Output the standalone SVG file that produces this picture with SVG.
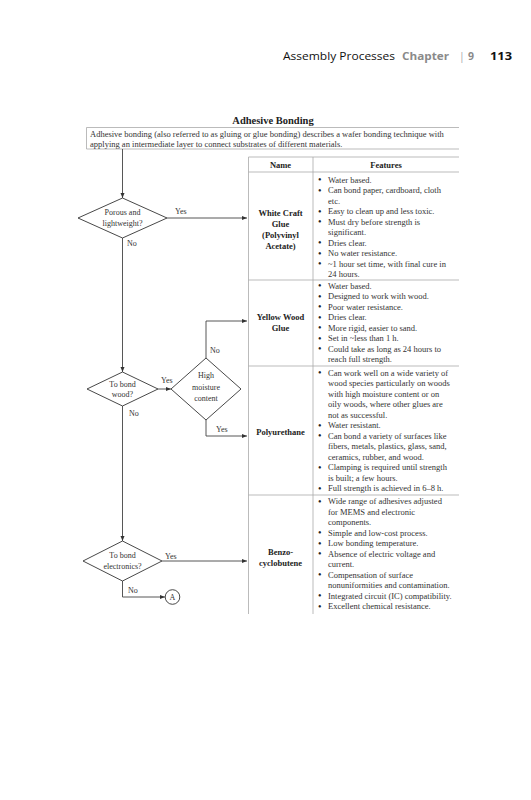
<svg xmlns="http://www.w3.org/2000/svg" width="531" height="800" viewBox="0 0 531 800">
<defs>
<marker id="ah" viewBox="0 0 6 6" refX="6" refY="3" markerWidth="5" markerHeight="5" orient="auto" markerUnits="userSpaceOnUse">
<path d="M0,0.6 L6,3 L0,5.4 Z" fill="#333"/>
</marker>
<style>
.hdr{font-family:"Open Sans","Liberation Sans",sans-serif;font-size:10.5px}
.t{font-family:"Liberation Serif",serif;font-size:8.5px;fill:#333}
.b{font-size:10px;fill:#222}
.tb{font-family:"Liberation Serif",serif;font-size:8.5px;font-weight:bold;fill:#222;text-anchor:middle}
.fl{font-family:"Liberation Serif",serif;font-size:8px;fill:#333}
.flc{font-family:"Liberation Serif",serif;font-size:8px;fill:#333;text-anchor:middle}
.tl{stroke:#aaa;stroke-width:0.8;fill:none}
.shape{fill:#fff;stroke:#333;stroke-width:0.9}
.cn{stroke:#444;stroke-width:0.9;fill:none;marker-end:url(#ah)}
</style>
</defs>
<rect width="531" height="800" fill="#fff"/>

<g id="page-header">
<text class="hdr" x="283" y="60" fill="#111" textLength="112" lengthAdjust="spacingAndGlyphs">Assembly Processes</text>
<text class="hdr" x="402" y="60" fill="#8a8a8a" font-weight="bold" textLength="47" lengthAdjust="spacingAndGlyphs">Chapter</text>
<text class="hdr" x="459" y="60" fill="#aaa">|</text>
<text class="hdr" x="468" y="60" fill="#8a8a8a" font-weight="bold">9</text>
<text class="hdr" x="490" y="60" fill="#111" font-weight="bold" textLength="22" lengthAdjust="spacingAndGlyphs">113</text>
</g>

<g id="title">
<text x="273" y="124" text-anchor="middle" font-family="Liberation Serif, serif" font-size="10.5" font-weight="bold" fill="#222">Adhesive Bonding</text>
</g>

<g id="intro">
<path class="tl" d="M459,127.5 H86.5 V149 H459"/>
<text class="t" x="90" y="137">Adhesive bonding (also referred to as gluing or glue bonding) describes a wafer bonding technique with</text>
<text class="t" x="90" y="146.5">applying an intermediate layer to connect substrates of different materials.</text>
</g>

<g id="table">
<path class="tl" d="M459,157 H248.5 V614 M313,157 V614 M248.5,172 H459 M248.5,280 H459 M248.5,366 H459 M248.5,495 H459"/>
<text class="tb" x="280.5" y="168">Name</text>
<text class="tb" x="386" y="168">Features</text>
</g>

<g id="white-craft-glue">
<text class="tb" x="280.5" y="215.5">White Craft</text>
<text class="tb" x="280.5" y="226.5">Glue</text>
<text class="tb" x="280.5" y="237.5">(Polyvinyl</text>
<text class="tb" x="280.5" y="248.5">Acetate)</text>
<text class="t">
<tspan class="b" x="318" y="183">•</tspan><tspan x="328" y="182.5">Water based.</tspan>
<tspan class="b" x="318" y="193.5">•</tspan><tspan x="328" y="193">Can bond paper, cardboard, cloth</tspan>
<tspan x="328" y="203.5">etc.</tspan>
<tspan class="b" x="318" y="214.5">•</tspan><tspan x="328" y="214">Easy to clean up and less toxic.</tspan>
<tspan class="b" x="318" y="225">•</tspan><tspan x="328" y="224.5">Must dry before strength is</tspan>
<tspan x="328" y="235">significant.</tspan>
<tspan class="b" x="318" y="246">•</tspan><tspan x="328" y="245.5">Dries clear.</tspan>
<tspan class="b" x="318" y="256.5">•</tspan><tspan x="328" y="256">No water resistance.</tspan>
<tspan class="b" x="318" y="267">•</tspan><tspan x="328" y="266.5">~1 hour set time, with final cure in</tspan>
<tspan x="328" y="277">24 hours.</tspan>
</text>
</g>

<g id="yellow-wood-glue">
<text class="tb" x="280.5" y="320">Yellow Wood</text>
<text class="tb" x="280.5" y="331">Glue</text>
<text class="t">
<tspan class="b" x="318" y="289">•</tspan><tspan x="328" y="288.5">Water based.</tspan>
<tspan class="b" x="318" y="299.5">•</tspan><tspan x="328" y="299">Designed to work with wood.</tspan>
<tspan class="b" x="318" y="310">•</tspan><tspan x="328" y="309.5">Poor water resistance.</tspan>
<tspan class="b" x="318" y="320.5">•</tspan><tspan x="328" y="320">Dries clear.</tspan>
<tspan class="b" x="318" y="331">•</tspan><tspan x="328" y="330.5">More rigid, easier to sand.</tspan>
<tspan class="b" x="318" y="341.5">•</tspan><tspan x="328" y="341">Set in ~less than 1 h.</tspan>
<tspan class="b" x="318" y="352">•</tspan><tspan x="328" y="351.5">Could take as long as 24 hours to</tspan>
<tspan x="328" y="362">reach full strength.</tspan>
</text>
</g>

<g id="polyurethane">
<text class="tb" x="280.5" y="435">Polyurethane</text>
<text class="t">
<tspan class="b" x="318" y="376">•</tspan><tspan x="328" y="375.5">Can work well on a wide variety of</tspan>
<tspan x="328" y="386">wood species particularly on woods</tspan>
<tspan x="328" y="396.5">with high moisture content or on</tspan>
<tspan x="328" y="407">oily woods, where other glues are</tspan>
<tspan x="328" y="417.5">not as successful.</tspan>
<tspan class="b" x="318" y="428.5">•</tspan><tspan x="328" y="428">Water resistant.</tspan>
<tspan class="b" x="318" y="439">•</tspan><tspan x="328" y="438.5">Can bond a variety of surfaces like</tspan>
<tspan x="328" y="449">fibers, metals, plastics, glass, sand,</tspan>
<tspan x="328" y="459.5">ceramics, rubber, and wood.</tspan>
<tspan class="b" x="318" y="470.5">•</tspan><tspan x="328" y="470">Clamping is required until strength</tspan>
<tspan x="328" y="480.5">is built; a few hours.</tspan>
<tspan class="b" x="318" y="491.5">•</tspan><tspan x="328" y="491">Full strength is achieved in 6–8 h.</tspan>
</text>
</g>

<g id="benzocyclobutene">
<text class="tb" x="280.5" y="555">Benzo-</text>
<text class="tb" x="280.5" y="566">cyclobutene</text>
<text class="t">
<tspan class="b" x="318" y="504.5">•</tspan><tspan x="328" y="504">Wide range of adhesives adjusted</tspan>
<tspan x="328" y="514.5">for MEMS and electronic</tspan>
<tspan x="328" y="525">components.</tspan>
<tspan class="b" x="318" y="536">•</tspan><tspan x="328" y="535.5">Simple and low-cost process.</tspan>
<tspan class="b" x="318" y="546.5">•</tspan><tspan x="328" y="546">Low bonding temperature.</tspan>
<tspan class="b" x="318" y="557">•</tspan><tspan x="328" y="556.5">Absence of electric voltage and</tspan>
<tspan x="328" y="567">current.</tspan>
<tspan class="b" x="318" y="578">•</tspan><tspan x="328" y="577.5">Compensation of surface</tspan>
<tspan x="328" y="588">nonuniformities and contamination.</tspan>
<tspan class="b" x="318" y="599">•</tspan><tspan x="328" y="598.5">Integrated circuit (IC) compatibility.</tspan>
<tspan class="b" x="318" y="609.5">•</tspan><tspan x="328" y="609">Excellent chemical resistance.</tspan>
</text>
</g>

<g id="connectors">
<path class="cn" d="M122.5,149 V198"/>
<path class="cn" d="M167,218 H247"/>
<path class="cn" d="M122.5,238 V372"/>
<path class="cn" d="M158,389 H171"/>
<path class="cn" d="M206,358 V321 H247"/>
<path class="cn" d="M206,420 V436 H247"/>
<path class="cn" d="M122.5,406 V541"/>
<path class="cn" d="M162,561 H247"/>
<path class="cn" d="M122.5,581 V597 H165"/>
<text class="fl" x="175" y="214">Yes</text>
<text class="fl" x="127" y="246">No</text>
<text class="fl" x="161" y="383">Yes</text>
<text class="fl" x="210" y="353">No</text>
<text class="fl" x="216" y="432">Yes</text>
<text class="fl" x="129" y="416">No</text>
<text class="fl" x="165" y="559">Yes</text>
<text class="fl" x="128" y="593">No</text>
</g>

<g id="porous-lightweight">
<polygon class="shape" points="122.5,198 167,218 122.5,238 78,218"/>
<text class="flc" x="122.5" y="215">Porous and</text>
<text class="flc" x="122.5" y="226">lightweight?</text>
</g>

<g id="to-bond-wood">
<polygon class="shape" points="122.5,372 158,389 122.5,406 87,389"/>
<text class="flc" x="122.5" y="387">To bond</text>
<text class="flc" x="122.5" y="397">wood?</text>
</g>

<g id="high-moisture">
<polygon class="shape" points="206,358 241,389 206,420 171,389"/>
<text class="flc" x="206" y="378">High</text>
<text class="flc" x="206" y="390">moisture</text>
<text class="flc" x="206" y="401">content</text>
</g>

<g id="to-bond-electronics">
<polygon class="shape" points="122.5,541 162,561 122.5,581 83,561"/>
<text class="flc" x="122.5" y="558">To bond</text>
<text class="flc" x="122.5" y="569">electronics?</text>
</g>

<g id="connector-a">
<circle class="shape" cx="172.5" cy="597" r="7.3"/>
<text class="flc" x="172.5" y="600">A</text>
</g>
</svg>
